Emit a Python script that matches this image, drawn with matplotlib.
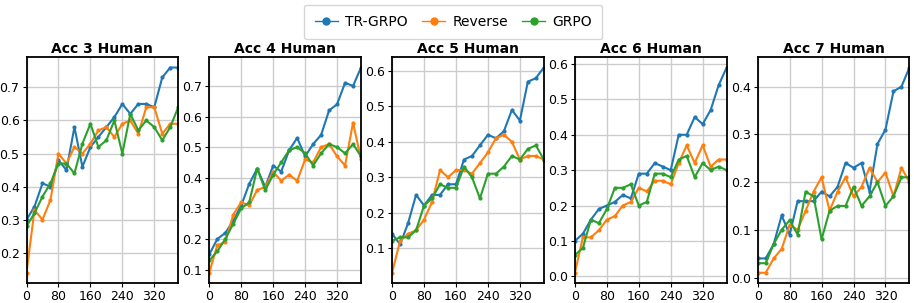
import numpy as np
import matplotlib.pyplot as plt
from matplotlib.lines import Line2D

steps = list(range(0, 400, 20))
titles = ['Acc 3 Human', 'Acc 4 Human', 'Acc 5 Human', 'Acc 6 Human', 'Acc 7 Human']
labels = ['TR-GRPO', 'Reverse', 'GRPO']

tr_grpo = [
    [0.30, 0.34, 0.41, 0.40, 0.48, 0.45, 0.58, 0.46, 0.52, 0.55, 0.58, 0.61, 0.65, 0.62, 0.65, 0.65, 0.64, 0.73, 0.76, 0.76],
    [0.15, 0.20, 0.22, 0.26, 0.31, 0.38, 0.43, 0.37, 0.44, 0.42, 0.49, 0.53, 0.47, 0.51, 0.54, 0.62, 0.64, 0.71, 0.70, 0.76],
    [0.14, 0.11, 0.17, 0.25, 0.22, 0.25, 0.25, 0.28, 0.28, 0.35, 0.36, 0.39, 0.42, 0.41, 0.43, 0.49, 0.46, 0.57, 0.58, 0.61],
    [0.10, 0.12, 0.16, 0.19, 0.20, 0.21, 0.23, 0.22, 0.29, 0.29, 0.32, 0.31, 0.30, 0.40, 0.40, 0.45, 0.43, 0.47, 0.54, 0.59],
    [0.04, 0.04, 0.07, 0.13, 0.09, 0.16, 0.16, 0.16, 0.18, 0.17, 0.19, 0.24, 0.23, 0.24, 0.18, 0.28, 0.31, 0.39, 0.40, 0.44],
]
reverse = [
    [0.14, 0.33, 0.30, 0.36, 0.50, 0.47, 0.52, 0.50, 0.53, 0.57, 0.58, 0.55, 0.59, 0.60, 0.56, 0.64, 0.64, 0.56, 0.59, 0.59],
    [0.09, 0.18, 0.19, 0.28, 0.32, 0.31, 0.36, 0.37, 0.42, 0.39, 0.41, 0.39, 0.46, 0.45, 0.50, 0.51, 0.47, 0.44, 0.58, 0.46],
    [0.03, 0.12, 0.14, 0.15, 0.18, 0.23, 0.32, 0.30, 0.32, 0.32, 0.31, 0.34, 0.37, 0.41, 0.42, 0.40, 0.35, 0.36, 0.36, 0.35],
    [0.01, 0.11, 0.11, 0.13, 0.16, 0.17, 0.20, 0.21, 0.25, 0.24, 0.27, 0.27, 0.26, 0.32, 0.37, 0.32, 0.37, 0.31, 0.33, 0.33],
    [0.01, 0.01, 0.04, 0.06, 0.11, 0.10, 0.14, 0.18, 0.21, 0.14, 0.18, 0.21, 0.17, 0.19, 0.23, 0.20, 0.22, 0.17, 0.23, 0.20],
]
grpo = [
    [0.28, 0.32, 0.37, 0.41, 0.47, 0.47, 0.44, 0.53, 0.59, 0.52, 0.54, 0.60, 0.50, 0.62, 0.57, 0.60, 0.58, 0.54, 0.58, 0.64],
    [0.13, 0.16, 0.20, 0.25, 0.30, 0.32, 0.43, 0.36, 0.41, 0.45, 0.49, 0.50, 0.48, 0.44, 0.48, 0.51, 0.50, 0.48, 0.51, 0.47],
    [0.12, 0.13, 0.13, 0.15, 0.22, 0.24, 0.28, 0.27, 0.27, 0.33, 0.30, 0.24, 0.31, 0.31, 0.33, 0.36, 0.35, 0.38, 0.39, 0.35],
    [0.06, 0.08, 0.16, 0.15, 0.19, 0.25, 0.25, 0.26, 0.20, 0.21, 0.29, 0.29, 0.28, 0.33, 0.34, 0.28, 0.32, 0.30, 0.31, 0.30],
    [0.03, 0.03, 0.07, 0.10, 0.12, 0.09, 0.18, 0.17, 0.08, 0.14, 0.15, 0.15, 0.19, 0.15, 0.17, 0.20, 0.15, 0.17, 0.21, 0.21],
]

colors = ['#1f77b4', '#ff7f0e', '#2ca02c']

fig = plt.figure(figsize=(9.14, 3.03), dpi=100)
axes = []
for i in range(5):
    ax = fig.add_axes([0.029 + i * 0.2, 0.066, 0.166, 0.745])
    axes.append(ax)

for i, ax in enumerate(axes):
    for series, c, lab in zip([tr_grpo, reverse, grpo], colors, labels):
        ax.plot(steps, series[i], color=c, marker='o', markersize=2, linewidth=1.5, label=lab)
    ax.set_title(titles[i], fontsize=10, fontweight='bold', pad=3)
    ax.set_xlim(0, 380)
    ax.set_xticks([0, 80, 160, 240, 320])
    ax.grid(True, color='#cccccc', linewidth=1)
    ax.tick_params(labelsize=9, length=3, pad=2)
    for s in ax.spines.values():
        s.set_linewidth(1.3)

handles = [Line2D([], [], color=c, marker='o', markersize=5, linewidth=1) for c in colors]
fig.legend(handles, labels, loc='upper center', ncol=3, bbox_to_anchor=(0.496, 0.985),
           borderaxespad=0, fontsize=10, frameon=True, borderpad=0.75,
           handlelength=1.7, handletextpad=0.5, columnspacing=1.0)

fig.savefig('out.png', dpi=100)
